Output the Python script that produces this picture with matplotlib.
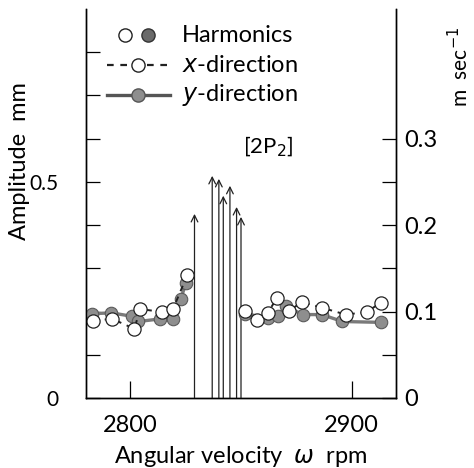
import numpy as np
import matplotlib.pyplot as plt

plt.rcParams['font.family'] = ['Lato', 'DejaVu Sans']
plt.rcParams['mathtext.fontset'] = 'dejavusans'

# x-direction harmonics (open circles)
x_rpm = [2783.2, 2791.9, 2801.8, 2804.5, 2814.1, 2819.4, 2825.7,
         2851.6, 2857.3, 2862.1, 2866.3, 2871.5, 2877.5, 2886.5, 2897.3, 2906.7, 2913.0]
x_amp = [0.179, 0.183, 0.160, 0.206, 0.199, 0.207, 0.284,
         0.201, 0.181, 0.197, 0.232, 0.201, 0.222, 0.209, 0.193, 0.199, 0.220]

# y-direction harmonics (filled circles)
y_rpm = [2782.5, 2791.5, 2800.8, 2803.7, 2813.5, 2819.4, 2822.8, 2825.1,
         2851.6, 2862.0, 2866.6, 2870.4, 2877.8, 2886.5, 2895.8, 2913.0]
y_amp = [0.195, 0.197, 0.189, 0.177, 0.183, 0.183, 0.228, 0.267,
         0.195, 0.186, 0.189, 0.212, 0.193, 0.193, 0.177, 0.175]

# resonance amplitudes beyond the measured range (arrows)
arrow_rpm = [2829, 2837, 2840, 2842, 2845, 2848, 2850]
arrow_amp = [0.426, 0.514, 0.507, 0.468, 0.491, 0.442, 0.419]

gap = 2835  # curves are broken through the resonance


def split(rpm, amp):
    rpm = np.array(rpm)
    amp = np.array(amp)
    left = rpm < gap
    return (rpm[left], amp[left]), (rpm[~left], amp[~left])


fig = plt.figure(figsize=(4.74, 4.68), dpi=100)
ax = fig.add_axes([86 / 474, 70 / 468, 310 / 474, 389 / 468])
ax2 = ax.twinx()

for r, a in split(y_rpm, y_amp):
    ax.plot(r, a, '-', color='#7a7a7a', lw=2.4, zorder=3)
    ax.plot(r, a, 'o', ms=9, mfc='#8e8e8e', mec='#5a5a5a', mew=0.8, zorder=4)
for r, a in split(x_rpm, x_amp):
    ax.plot(r, a, '--', color='#222222', lw=1.4, dashes=(3, 3), zorder=5)
    ax.plot(r, a, 'o', ms=9.5, mfc='white', mec='#222222', mew=0.9, zorder=6)

for r, a in zip(arrow_rpm, arrow_amp):
    ax.annotate('', xy=(r, a), xytext=(r, 0),
                arrowprops=dict(arrowstyle='->', color='#222222', lw=0.9,
                                mutation_scale=12, shrinkA=0, shrinkB=0))

ax.set_xlim(2780, 2920)
ax.set_ylim(0, 0.9)
ax2.set_ylim(0, 0.45)

ax.set_xticks([2800, 2900])
ax.set_yticks(np.arange(0, 0.85, 0.1))
ax.set_yticklabels(['0', '', '', '', '', '0.5', '', '', ''])
ax2.set_yticks(np.arange(0, 0.31, 0.05))
ax2.set_yticklabels(['0', '', '0.1', '', '0.2', '', '0.3'])

ax.tick_params(axis='y', direction='in', length=10, width=0.9, pad=20, labelsize=15)
ax.tick_params(axis='x', direction='in', length=12, width=0.9, pad=12, labelsize=17)
ax2.tick_params(axis='y', direction='in', length=10, width=0.9, pad=6, labelsize=17)

for a in (ax, ax2):
    a.spines['top'].set_visible(False)
    for s in a.spines.values():
        s.set_linewidth(1.0)

ax.set_xlabel(r'Angular velocity  $\omega$  rpm', fontsize=17, labelpad=6)
ax.set_ylabel('Amplitude  mm', fontsize=17)
ax.yaxis.set_label_coords(-0.18, 0.61)
ax2.set_ylabel(r'm  sec$^{-1}$', fontsize=15)
ax2.yaxis.set_label_coords(1.165, 0.85)

# hand-drawn style key
t = ax.transAxes
ax.plot([0.126], [0.933], 'o', ms=9.5, mfc='white', mec='#222222', transform=t, clip_on=False)
ax.plot([0.200], [0.933], 'o', ms=9.5, mfc='#6a6a6a', mec='#333333', transform=t, clip_on=False)
ax.text(0.31, 0.933, 'Harmonics', transform=t, fontsize=17, va='center')
ax.plot([0.068, 0.271], [0.856, 0.856], '--', color='#222222', lw=1.6, dashes=(3, 3), transform=t)
ax.plot([0.168], [0.856], 'o', ms=9.5, mfc='white', mec='#222222', transform=t)
ax.text(0.31, 0.856, r'$x$-direction', transform=t, fontsize=17, va='center')
ax.plot([0.068, 0.271], [0.779, 0.779], '-', color='#555555', lw=2.4, transform=t)
ax.plot([0.168], [0.779], 'o', ms=9.5, mfc='#8e8e8e', mec='#555555', transform=t)
ax.text(0.31, 0.779, r'$y$-direction', transform=t, fontsize=17, va='center')

ax.text(0.587, 0.645, r'[2P$_2$]', transform=t, fontsize=16, ha='center', va='center')

fig.savefig('out.png', dpi=100)
